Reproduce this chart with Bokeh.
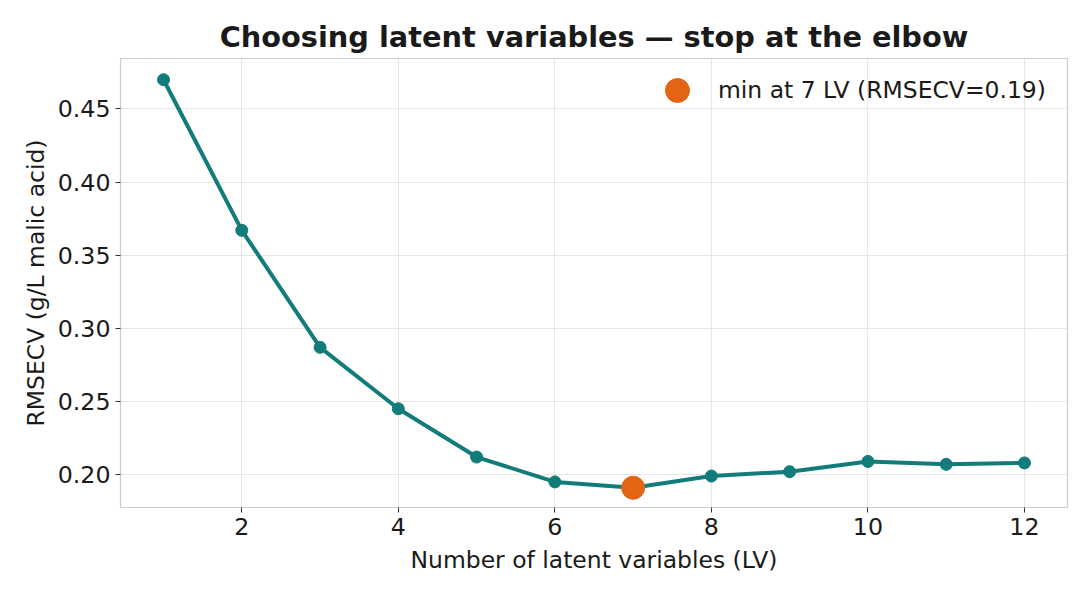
from bokeh.plotting import figure
from bokeh.models import ColumnDataSource, Range1d, Legend, LegendItem, FixedTicker, CustomJSTickFormatter
from bokeh.embed import file_html
from bokeh.resources import INLINE

n_lv = [1, 2, 3, 4, 5, 6, 7, 8, 9, 10, 11, 12]
rmsecv = [0.470, 0.367, 0.287, 0.245, 0.212, 0.195, 0.191, 0.199, 0.202, 0.209, 0.207, 0.208]
best_lv = [7]
best_val = [0.191]
x_ticks = [2, 4, 6, 8, 10, 12]
y_ticks = [0.20, 0.25, 0.30, 0.35, 0.40, 0.45]

TEAL = "#127c7a"
ORANGE = "#e46416"
FONT = "DejaVu Sans"

p = figure(frame_width=947, frame_height=449, output_backend="svg", toolbar_location=None,
           x_range=Range1d(0.45, 12.55), y_range=Range1d(0.1775, 0.4845),
           min_border_left=120, min_border_right=25, min_border_top=58, min_border_bottom=91)

p.title.text = "Choosing latent variables — stop at the elbow"
p.title.text_font = FONT
p.title.text_font_size = "21.6pt"
p.title.text_font_style = "bold"
p.title.text_color = "#1a1a1a"
p.title.align = "center"

src = ColumnDataSource(dict(x=n_lv, y=rmsecv))
p.line("x", "y", source=src, line_color=TEAL, line_width=4)
p.scatter("x", "y", source=src, size=12, fill_color=TEAL, line_color=TEAL)
best = p.scatter(best_lv, best_val, size=23, fill_color=ORANGE, line_color=ORANGE)

leg = Legend(items=[LegendItem(label="min at 7 LV (RMSECV=0.19)", renderers=[best])],
             location=(525, 385), border_line_alpha=0, background_fill_alpha=0,
             label_text_font=FONT, label_text_font_size="17.6pt", label_text_color="#1a1a1a",
             glyph_width=60, glyph_height=60, label_standoff=11, spacing=0, padding=2, margin=0)
p.add_layout(leg)

p.xaxis.ticker = FixedTicker(ticks=x_ticks)
p.yaxis.ticker = FixedTicker(ticks=y_ticks)
p.yaxis.formatter = CustomJSTickFormatter(code="return tick.toFixed(2);")

for ax in (p.xaxis[0], p.yaxis[0]):
    ax.axis_line_color = None
    ax.major_tick_line_color = "#333333"
    ax.major_tick_in = 0
    ax.major_tick_out = 5
    ax.minor_tick_line_color = None
    ax.major_label_text_font = FONT
    ax.major_label_text_font_size = "17.8pt"
    ax.major_label_text_color = "#1a1a1a"
    ax.axis_label_text_font = FONT
    ax.axis_label_text_font_size = "17.6pt"
    ax.axis_label_text_font_style = "normal"
    ax.axis_label_text_color = "#1a1a1a"

p.xaxis.axis_label = "Number of latent variables (LV)"
p.xaxis.axis_label_standoff = 8
p.yaxis.axis_label = "RMSECV (g/L malic acid)"

p.grid.grid_line_color = "#e6e6e6"
p.grid.grid_line_width = 1
p.outline_line_color = "#cccccc"
p.outline_line_width = 1.2
p.background_fill_color = "white"

open("out.html", "w").write(file_html(p, INLINE))
